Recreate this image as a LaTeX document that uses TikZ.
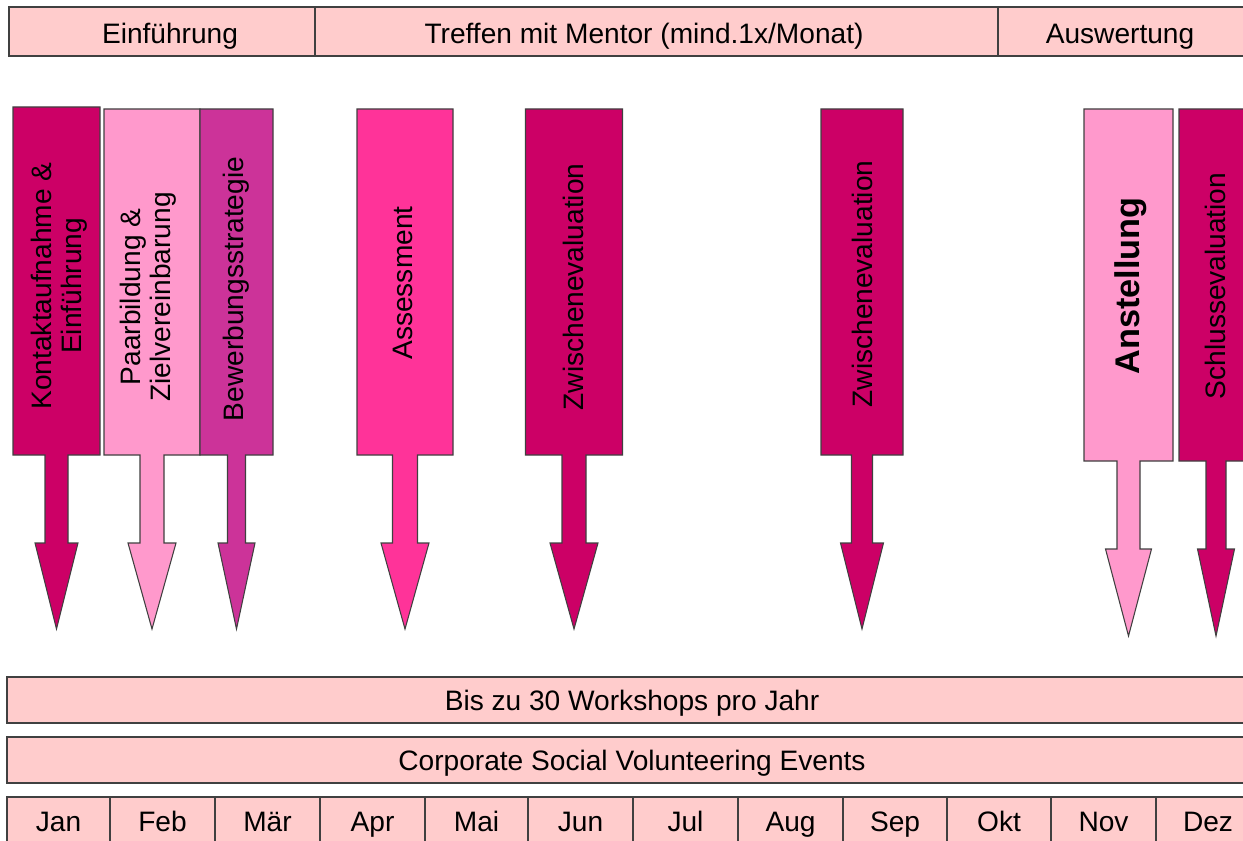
\documentclass[tikz,border=0pt]{standalone}
\usepackage{fontspec}
\setmainfont{Liberation Sans}
\definecolor{balken}{HTML}{FFCCCC}
\definecolor{dunkel}{HTML}{CC0066}
\definecolor{hell}{HTML}{FF99CC}
\definecolor{mittel}{HTML}{CC3399}
\definecolor{pink}{HTML}{FF3399}
\definecolor{rand}{HTML}{404040}
\tikzstyle{bar}=[fill=balken, draw=rand, line width=0.6pt]
\tikzstyle{label}=[font=\fontsize{16}{17}\selectfont, text=black]
\tikzstyle{zeile}=[label, text height=11.5pt, text depth=0pt]
\tikzstyle{phase}=[label, rotate=90, align=center]
% #1 colour, #2 centre x, #3 half box width, #4 box top, #5 box bottom,
% #6 half shaft width, #7 half head width, #8 head top, #9 tip
\newcommand{\pfeilbox}[9]{%
\filldraw[fill=#1, draw=rand, line width=0.6pt]
 (#2-#3,#4) -- (#2+#3,#4) -- (#2+#3,#5) -- (#2+#6,#5) -- (#2+#6,#8)
 -- (#2+#7,#8) -- (#2,#9) -- (#2-#7,#8) -- (#2-#6,#8) -- (#2-#6,#5)
 -- (#2-#3,#5) -- cycle;}

\begin{document}
\begin{tikzpicture}[x=0.02cm, y=-0.02cm]
\useasboundingbox (0,0) rectangle (1243,841);
\clip (0,0) rectangle (1243,841);

% phases on top
\draw[bar] (9,7) rectangle (315,56);
\draw[bar] (315,7) rectangle (998,56);
\draw[bar] (998,7) rectangle (1252,56);
\node[zeile] (einf) at (170,33) {Einführung};
\node[zeile] (treffen) at (644,33) {Treffen mit Mentor (mind.1x/Monat)};
\node[zeile] (ausw) at (1120,33) {Auswertung};

% milestones
\pfeilbox{dunkel}{56.5}{43.5}{107}{455}{11.5}{21.5}{543}{629}
\pfeilbox{hell}{152}{48}{109}{455}{12}{24}{543}{629}
\pfeilbox{mittel}{236.5}{36.5}{109}{455}{9}{18.5}{543}{629}
\pfeilbox{pink}{405}{48}{109}{455}{12.5}{24}{543}{629}
\pfeilbox{dunkel}{574}{48.5}{109}{455}{12}{24}{543}{629}
\pfeilbox{dunkel}{862}{41}{109}{455}{10.5}{21.5}{543}{629}
\pfeilbox{hell}{1128.5}{44.5}{109}{461}{11.5}{23}{549}{636}
\pfeilbox{dunkel}{1216}{37}{109}{461}{10}{18.5}{549}{636}

\node[phase] (kontakt) at (59,286) {Kontaktaufnahme \&\\Einführung};
\node[phase] (paar) at (148,297) {Paarbildung \&\\Zielvereinbarung};
\node[phase] (bewerbung) at (236,289) {Bewerbungsstrategie};
\node[phase] (assess) at (403,283) {Assessment};
\node[phase] (zwisch1) at (573,287) {Zwischenevaluation};
\node[phase] (zwisch2) at (862,284) {Zwischenevaluation};
\node[phase, font=\fontsize{19.5}{21}\selectfont\bfseries] (anst) at (1131,286) {Anstellung};
\node[phase] (schluss) at (1215,286) {Schlussevaluation};

% ongoing offers
\draw[bar] (7,677) rectangle (1257,723) node[midway, zeile] (workshops) {Bis zu 30 Workshops pro Jahr};
\draw[bar] (7,737) rectangle (1257,783) node[midway, zeile] (csv) {Corporate Social Volunteering Events};

% months
\foreach \m/\a/\b [count=\i] in {Jan/7/110, Feb/110/215, Mär/215/320, Apr/320/425,
  Mai/425/528, Jun/528/633, Jul/633/738, Aug/738/843, Sep/843/947,
  Okt/947/1051, Nov/1051/1156, Dez/1156/1260}
  \draw[bar] (\a,797) rectangle (\b,845) node[midway, zeile] (mon\i) {\m};
\end{tikzpicture}
\end{document}
